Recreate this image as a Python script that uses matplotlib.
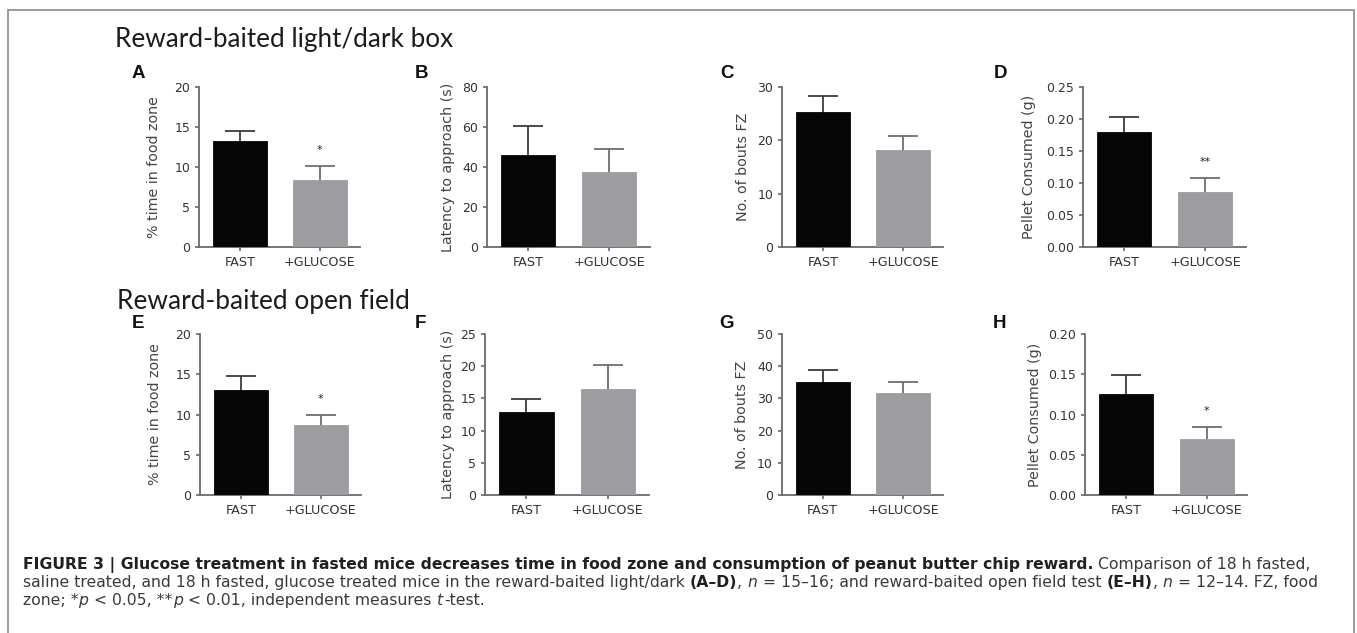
import matplotlib
matplotlib.use("Agg")
import matplotlib.pyplot as plt
from matplotlib.patches import Rectangle
import numpy as np

# ---------------- data ----------------
categories = ["FAST", "+GLUCOSE"]

row_titles = ["Reward-baited light/dark box", "Reward-baited open field"]
panel_letters = ["A", "B", "C", "D", "E", "F", "G", "H"]
y_labels = ["% time in food zone", "Latency to approach (s)", "No. of bouts FZ",
            "Pellet Consumed (g)"] * 2

a_means = [13.2, 8.35]
a_sem = [1.3, 1.7]
b_means = [46.1, 37.4]
b_sem = [14.4, 11.5]
c_means = [25.2, 18.1]
c_sem = [3.0, 2.6]
d_means = [0.180, 0.085]
d_sem = [0.022, 0.022]
e_means = [13.1, 8.67]
e_sem = [1.7, 1.25]
f_means = [12.9, 16.5]
f_sem = [2.05, 3.7]
g_means = [35.2, 31.8]
g_sem = [3.6, 3.2]
h_means = [0.126, 0.070]
h_sem = [0.023, 0.014]

all_means = [a_means, b_means, c_means, d_means, e_means, f_means, g_means, h_means]
all_sem = [a_sem, b_sem, c_sem, d_sem, e_sem, f_sem, g_sem, h_sem]
y_max = [20, 80, 30, 0.25, 20, 25, 50, 0.20]
y_step = [5, 20, 10, 0.05, 5, 5, 10, 0.05]
y_decimals = [0, 0, 0, 2, 0, 0, 0, 2]
significance = ["*", "", "", "**", "*", "", "", "*"]   # marks on +GLUCOSE bar

caption_lines = [
    [("FIGURE 3 | Glucose treatment in fasted mice decreases time in food zone and "
      "consumption of peanut butter chip reward.", "b"),
     (" Comparison of 18 h fasted,", "r")],
    [("saline treated, and 18 h fasted, glucose treated mice in the reward-baited light/dark ", "r"),
     ("(A–D)", "b"), (", ", "r"), ("n", "i"), (" = 15–16; and reward-baited open field test ", "r"),
     ("(E–H)", "b"), (", ", "r"), ("n", "i"), (" = 12–14. FZ, food", "r")],
    [("zone; *", "r"), ("p", "i"), (" < 0.05, **", "r"), ("p", "i"),
     (" < 0.01, independent measures ", "r"), ("t", "i"), ("-test.", "r")],
]

# ---------------- layout ----------------
W, H = 1357, 633
DPI = 100
fig = plt.figure(figsize=(W / DPI, H / DPI), dpi=DPI)
fig.patch.set_facecolor("white")
renderer = fig.canvas.get_renderer()

bar_colors = ["#050505", "#9d9da1"]
err_colors = ["#3c3c3c", "#6e6e6e"]
spine_color = "#6a6a6a"
tick_text = "#333333"
label_text = "#444444"
FONT = "DejaVu Sans"

# axes boxes in pixels (x0, y0_top, x1, y1_bottom)
boxes = [
    (199.0, 86.7, 360.0, 247.0),
    (486.5, 86.7, 649.6, 247.0),
    (782.0, 86.7, 943.4, 247.0),
    (1083.0, 86.7, 1245.6, 247.0),
    (200.0, 334.0, 361.0, 495.0),
    (485.0, 334.0, 648.5, 495.0),
    (781.5, 334.0, 943.4, 495.0),
    (1084.6, 334.0, 1247.0, 495.0),
]
ylabel_dx = [45.5, 40, 40, 55, 46, 38, 41, 50.5]
letter_pos = [(138, 73), (421.5, 73), (726.6, 73), (1000.4, 73),
              (138, 324), (420, 324), (726.6, 324), (1000, 324)]
title_pos = [(115, 47), (117, 308.5)]
title_width = [337, 291.5]

# outer frame
fig.patches.append(Rectangle((7.5 / W, -0.05), (1353.5 - 7.5) / W, 1 - 9.5 / H + 0.05,
                             transform=fig.transFigure, fill=False, ec="#8a8a8a",
                             lw=1.2, zorder=0))


def text_w(t):
    return t.get_window_extent(renderer).width


# row titles, fitted to the reference width
for (tx, ty), ttl, tw in zip(title_pos, row_titles, title_width):
    t = fig.text(tx / W, 1 - ty / H, ttl, family="Lato", size=18, va="baseline",
                 ha="left", color="#1c1c1c")
    t.set_size(18 * tw / text_w(t))

x_pos = np.arange(len(categories))

for i in range(8):
    x0, y0, x1, y1 = boxes[i]
    ax = fig.add_axes([x0 / W, 1 - y1 / H, (x1 - x0) / W, (y1 - y0) / H])
    means = all_means[i]
    sem = all_sem[i]
    # error bars drawn below the bars so only the upper half is visible
    for j in range(len(categories)):
        ax.errorbar(x_pos[j], means[j], yerr=sem[j], fmt="none",
                    ecolor=err_colors[j], elinewidth=1.3, capsize=10.5,
                    capthick=1.3, zorder=2)
    ax.bar(x_pos, means, width=0.67, color=bar_colors, edgecolor=bar_colors,
           linewidth=0.6, zorder=3)
    if significance[i]:
        ax.annotate(significance[i], xy=(x_pos[1], means[1] + sem[1]),
                    xytext=(0, 11.5), textcoords="offset points", ha="center",
                    va="center", fontsize=8, color="#222222", family=FONT)
    ax.set_xlim(-0.51, 1.5)
    ax.set_ylim(0, y_max[i])
    ticks = np.arange(0, y_max[i] + y_step[i] / 2, y_step[i])
    ax.set_yticks(ticks)
    d = y_decimals[i]
    ax.set_yticklabels([f"{v:.{d}f}" for v in ticks], family=FONT, fontsize=9,
                       color=tick_text)
    ax.set_xticks(x_pos)
    ax.set_xticklabels(categories, family=FONT, fontsize=9.2, color=tick_text)
    for s in ["top", "right"]:
        ax.spines[s].set_visible(False)
    for s in ["left", "bottom"]:
        ax.spines[s].set_color(spine_color)
        ax.spines[s].set_linewidth(1.3)
    ax.tick_params(axis="both", direction="out", length=3.2, width=1.2,
                   color=spine_color, pad=3)
    ax.set_ylabel(y_labels[i], family=FONT, fontsize=10.3, color=label_text)
    wpx = x1 - x0
    ax.yaxis.set_label_coords(-(ylabel_dx[i] - 8) / wpx, 0.5)
    ax.set_facecolor("none")
    lx, ly = letter_pos[i]
    fig.text(lx / W, 1 - ly / H, panel_letters[i], family="Liberation Sans",
             weight="bold", size=13.5, ha="center", va="center", color="#111111")

# ---------------- caption ----------------
styles = {
    "b": dict(weight="bold", color="#202020"),
    "r": dict(color="#3a3a3a"),
    "i": dict(style="italic", color="#3a3a3a"),
}


def space_width(size, kw):
    t1 = fig.text(0, 0, "a a", family=FONT, size=size, **kw)
    t2 = fig.text(0, 0, "aa", family=FONT, size=size, **kw)
    w = text_w(t1) - text_w(t2)
    t1.remove()
    t2.remove()
    return w


def draw_runs(x, y, runs, size, keep=True):
    made = []
    for txt, st in runs:
        kw = styles[st]
        lead = len(txt) - len(txt.lstrip(" "))
        trail = len(txt) - len(txt.rstrip(" "))
        core = txt.strip(" ")
        sw = space_width(size, kw)
        x += lead * sw
        if core:
            t = fig.text(x / W, 1 - y / H, core, family=FONT, size=size,
                         va="baseline", ha="left", **kw)
            x += text_w(t)
            if st == "i":
                x += 1.0
            made.append(t)
        x += trail * sw
    if not keep:
        for t in made:
            t.remove()
    return x


cap_x = 22.7
base_size = 10.0
end = draw_runs(cap_x, 568, caption_lines[0], base_size, keep=False)
cap_size = base_size * (1311 - cap_x) / (end - cap_x)
for ln, yb in zip(caption_lines, [569, 587, 605]):
    draw_runs(cap_x, yb, ln, cap_size)

fig.savefig("out.png", dpi=DPI, facecolor="white")
